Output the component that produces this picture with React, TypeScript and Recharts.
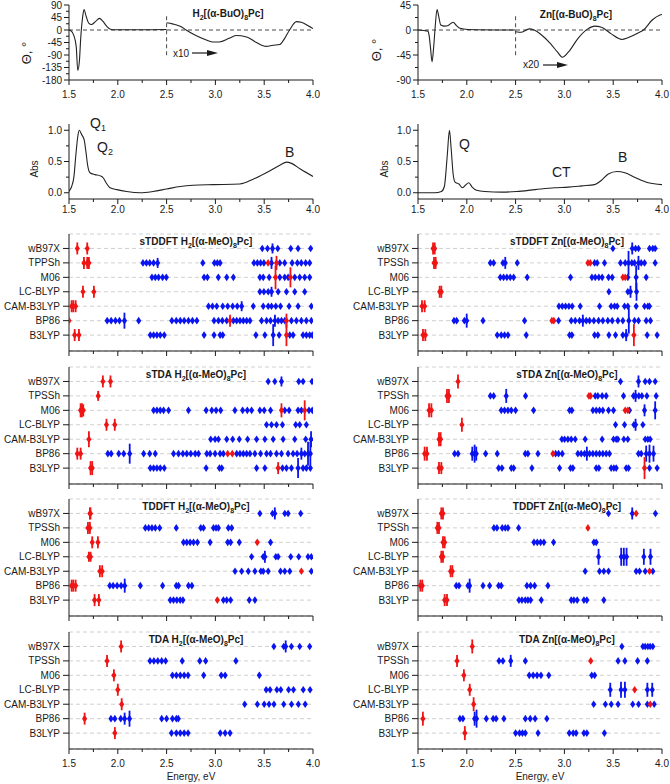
import React from 'react';
import { ScatterChart, Scatter, XAxis, YAxis, CartesianGrid, LineChart, Line, ReferenceLine } from 'recharts';

// ---------- axis values ----------
const energyTicks = [1.5, 1.75, 2, 2.25, 2.5, 2.75, 3, 3.25, 3.5, 3.75, 4];
const energyMajor = [1.5, 2, 2.5, 3, 3.5, 4];
const rowTicks = [0, 1, 2, 3, 4, 5, 6];
const functionals = ['wB97X', 'TPSSh', 'M06', 'LC-BLYP', 'CAM-B3LYP', 'BP86', 'B3LYP'];
const functionalsFirst = ['wB97X', 'TPPSh', 'M06', 'LC-BLYP', 'CAM-B3LYP', 'BP86', 'B3LYP'];
const cdTicksH2 = [-180, -157.5, -135, -112.5, -90, -67.5, -45, -22.5, 0, 22.5, 45, 67.5, 90];
const cdTicksZn = [-90, -67.5, -45, -22.5, 0, 22.5, 45];
const absTicks = [0, 0.25, 0.5, 0.75, 1.0];

// ---------- CD spectra (energy, ellipticity) ----------
const cdH2Low: [number, number][] = [[1.5, 0], [1.517, -2], [1.55, -20], [1.574, -60], [1.59, -146], [1.607, -110], [1.62, -30], [1.641, 50], [1.654, 74], [1.675, 50], [1.702, 25], [1.73, 20], [1.77, 30], [1.812, 42], [1.846, 32], [1.89, 12], [1.925, 3], [1.98, 1], [2.2, 1], [2.5, 2]];
const cdH2High: [number, number][] = [[2.5, 26], [2.56, 22], [2.65, 12], [2.7, 0], [2.8, -20], [2.9, -35], [2.97, -43], [3.04, -43], [3.14, -30], [3.21, -20], [3.32, -25], [3.42, -45], [3.52, -59], [3.59, -55], [3.66, -52], [3.71, -30], [3.76, 0], [3.83, 30], [3.88, 28], [3.95, 15], [4.0, 5]];
const cdZnLow: [number, number][] = [[1.5, 0], [1.6, -2], [1.614, -10], [1.627, -30], [1.644, -57], [1.661, -30], [1.678, 10], [1.695, 37], [1.712, 25], [1.733, 9], [1.774, 7], [1.808, 8], [1.86, 14], [1.894, 8], [1.93, 3], [2.01, 1], [2.5, 0]];
const cdZnHigh: [number, number][] = [[2.5, -3], [2.56, -4], [2.64, 2], [2.69, 0], [2.76, -8], [2.86, -25], [2.93, -40], [2.98, -49], [3.04, -40], [3.14, -15], [3.24, 2], [3.31, 7], [3.38, 5], [3.48, -7], [3.59, -17], [3.65, -14], [3.76, -5], [3.81, 0], [3.9, 18], [3.98, 27], [4.0, 28]];

// ---------- absorption spectra ----------
const absH2: [number, number][] = [[1.5, 0.02], [1.527, 0.1], [1.55, 0.25], [1.57, 0.6], [1.59, 0.9], [1.605, 1.0], [1.63, 0.93], [1.655, 0.85], [1.674, 0.65], [1.69, 0.45], [1.715, 0.32], [1.766, 0.29], [1.82, 0.27], [1.85, 0.24], [1.88, 0.16], [1.92, 0.08], [1.99, 0.05], [2.09, 0.02], [2.23, 0.0], [2.36, 0.02], [2.5, 0.06], [2.64, 0.1], [2.77, 0.12], [2.98, 0.13], [3.25, 0.14], [3.39, 0.22], [3.52, 0.32], [3.66, 0.44], [3.73, 0.49], [3.78, 0.47], [3.87, 0.38], [4.0, 0.26]];
const absZn: [number, number][] = [[1.5, 0.0], [1.67, 0.0], [1.74, 0.02], [1.77, 0.1], [1.8, 0.6], [1.822, 1.0], [1.84, 0.7], [1.86, 0.3], [1.88, 0.17], [1.92, 0.14], [1.955, 0.08], [1.985, 0.12], [2.02, 0.16], [2.055, 0.09], [2.1, 0.04], [2.185, 0.02], [2.36, 0.01], [2.51, 0.02], [2.7, 0.05], [2.9, 0.08], [3.04, 0.09], [3.18, 0.11], [3.31, 0.13], [3.38, 0.2], [3.45, 0.3], [3.54, 0.34], [3.62, 0.32], [3.73, 0.24], [3.86, 0.16], [4.0, 0.13]];

// ---------- computed transitions: energy or [energy, relative strength] ----------
type M = number | [number, number];
type Row = { b: M[]; r: M[] };

const sTDDFT_H2: Row[] = [
  { b: [3.48, 3.534, [3.585, 0.5], 3.639, 3.772, 3.847, 3.976], r: [[1.585, 0.6], [1.687, 0.6]] },
  { b: [2.258, 2.293, 2.327, 2.367, [2.408, 0.5], 2.871, 2.99, 3.02, 3.048, 3.395, 3.43, 3.463, 3.497, [3.575, 0.6], 3.66, 3.71, 3.786, 3.84, 3.88, 3.925, 3.966], r: [[1.653, 0.6], [1.687, 0.6], [1.704, 0.6], 3.54, [3.626, 0.7]] },
  { b: [2.35, 2.384, 2.418, 2.459, 2.497, 2.884, 2.918, 3.03, 3.116, 3.184, 3.456, 3.49, 3.551, 3.66, 3.71, 3.745, 3.813, 3.864, 3.915, 3.966], r: [[3.616, 1.2], [3.769, 1.0]] },
  { b: [3.456, 3.497, 3.541, [3.575, 0.5], 3.643, 3.728, 3.813, 3.915], r: [[1.643, 0.6], [1.755, 0.6]] },
  { b: [2.929, 2.97, 3.014, 3.075, 3.126, 3.177, 3.224, [3.269, 0.5], 3.388, 3.49, 3.541, 3.575, 3.619, 3.667, 3.755, 3.847, 3.983], r: [[1.527, 0.6], [1.544, 0.6], [1.568, 0.6]] },
  { b: [1.891, 1.932, 1.976, 2.017, [2.068, 0.8], 2.214, 2.554, 2.599, 2.64, 2.68, 2.724, 2.765, 2.81, 2.986, 3.031, 3.071, 3.116, 3.184, 3.218, 3.252, 3.286, 3.32, 3.354, 3.473, 3.524, 3.565, [3.61, 0.6], 3.643, 3.677, 3.711, 3.779, 3.83, 3.881, 3.932, 3.983], r: [1.5, [3.15, 0.6], [3.728, 0.7]] },
  { b: [2.333, 2.367, 2.401, 2.435, 2.476, 2.884, 2.986, 3.048, 3.075, 3.415, 3.507, [3.592, 1.1], 3.653, 3.762, 3.796, 3.898, 3.932, 3.966, 3.993], r: [[1.558, 0.6], [1.602, 0.6], [3.728, 1.1]] },
];
const sTDA_H2: Row[] = [
  { b: [3.541, 3.609, [3.677, 0.5], 3.854, 3.898, 3.99], r: [[1.847, 0.6], [1.925, 0.6]] },
  { b: [], r: [[1.799, 0.5]] },
  { b: [2.367, 2.401, 2.435, 2.469, 2.52, 2.724, 2.905, 2.963, 3.007, 3.054, 3.2, 3.279, 3.327, 3.371, 3.456, 3.5, 3.565, 3.711, 3.755, 3.847, 3.881, 3.959, 3.993], r: [[1.619, 0.7], [1.633, 0.7], [1.646, 0.6], [3.677, 0.7], [3.915, 1.0]] },
  { b: [3.524, 3.575, 3.626, 3.687, 3.823, 3.864, 3.932], r: [[1.884, 0.6], [1.969, 0.6]] },
  { b: [2.952, 2.997, 3.031, 3.116, 3.177, 3.245, 3.33, 3.422, 3.507, 3.592, 3.694, 3.813, 3.925, [3.98, 0.8]], r: [[1.704, 0.8]] },
  { b: [1.898, 1.932, 2.01, 2.061, [2.122, 1.0], 2.265, 2.327, 2.384, 2.571, 2.622, 2.667, 2.707, 2.748, 2.793, 2.827, 2.912, 2.946, 2.997, 3.048, 3.082, 3.218, 3.252, 3.286, 3.32, 3.354, 3.405, 3.463, 3.524, 3.565, 3.626, 3.677, 3.745, 3.796, 3.837, [3.881, 0.6], 3.915, [3.949, 1.2], [3.973, 1.2]], r: [[1.585, 0.6], [1.619, 0.6], 3.126, 3.173] },
  { b: [2.333, 2.367, 2.401, 2.435, 2.476, 2.905, 3.041, 3.065, 3.422, 3.507, 3.687, 3.728, 3.779, [3.847, 1.0], 3.898, 3.932, 3.973], r: [[1.721, 0.7], [1.738, 0.7], [3.643, 0.6]] },
];
const TDDFT_H2: Row[] = [
  { b: [3.456, 3.585, [3.609, 0.6], 3.711, 3.745, 3.874], r: [[1.714, 0.6], [1.72, 0.6]] },
  { b: [2.282, 2.316, 2.35, 2.384, 2.429, 2.599, 2.85, 2.878, 2.98, 3.007, 3.031, 3.133, 3.167], r: [[1.694, 0.6], [1.714, 0.6]] },
  { b: [2.673, 2.707, 2.741, 2.776, 2.816, 2.946, 3.126, 3.156, 3.245, 3.565], r: [[1.738, 0.6], [1.796, 0.6], 3.429] },
  { b: [3.371, 3.49, [3.507, 0.6], 3.619, 3.643, 3.772, 3.854, 3.949, 3.983], r: [[1.704, 0.5], [1.721, 0.5]] },
  { b: [3.201, 3.269, 3.337, 3.405, 3.466, 3.49, 3.541, 3.667, 3.711, 3.762, 3.983], r: [[1.816, 0.6], [1.84, 0.6], 3.881] },
  { b: [1.918, 1.952, 1.993, 2.034, [2.071, 0.7], 2.231, 2.459, 2.599, 2.622, 2.724, 2.759], r: [[1.527, 0.6], [1.544, 0.6], [1.568, 0.6]] },
  { b: [2.537, 2.571, 2.605, 2.639, 2.667, 3.082, 3.116, 3.156, 3.347, 3.405], r: [[1.762, 0.6], [1.806, 0.6], 3.02] },
];
const TDA_H2: Row[] = [
  { b: [3.599, 3.7, [3.72, 0.6], 3.779, 3.864, 3.966], r: [[2.034, 0.6]] },
  { b: [2.33, 2.37, 2.41, 2.45, 2.49, 2.66, 2.84, 2.9, 3.21], r: [[1.89, 0.6]] },
  { b: [2.56, 2.6, 2.64, 2.68, 2.72, 2.88, 3.06, 3.1, 3.45], r: [[1.96, 0.6]] },
  { b: [3.52, 3.56, 3.63, 3.67, 3.75, 3.8, 3.9, 3.97], r: [[2.0, 0.6]] },
  { b: [3.3, 3.43, 3.5, 3.55, 3.6, 3.7, 3.78, 3.85, 3.92], r: [[2.04, 0.6]] },
  { b: [1.93, 1.97, 2.03, [2.07, 0.6], [2.12, 0.8], 2.45, 2.5, 2.56, 2.6, 2.62], r: [[1.66, 0.6]] },
  { b: [2.55, 2.6, 2.64, 2.68, 2.72, 3.05, 3.1, 3.15], r: [[1.97, 0.6]] },
];

const sTDDFT_Zn: Row[] = [
  { b: [3.497, [3.695, 0.6], 3.729, 3.759, 3.872, 3.906, 3.93], r: [[1.654, 0.6], [1.671, 0.6]] },
  { b: [2.241, 2.275, 2.37, [2.394, 0.6], 2.517, 3.309, 3.336, 3.411, 3.575, 3.623, [3.657, 1.2], 3.691, 3.718, [3.759, 0.7], 3.787, 3.821, 3.93], r: [[1.664, 0.6], [1.681, 0.6], 3.241, 3.265] },
  { b: [2.343, 2.377, 2.411, 2.445, 2.48, 2.619, 3.063, 3.282, 3.316, 3.353, 3.387, 3.452, 3.49, 3.65, [3.735, 1.2], 3.838], r: [3.599, 3.623] },
  { b: [3.456, 3.65, [3.677, 0.6], [3.739, 0.9]], r: [[1.722, 0.6], [1.739, 0.6]] },
  { b: [2.944, 2.978, 3.012, 3.046, 3.08, 3.162, 3.36, 3.479, 3.514, 3.541, 3.616, 3.65, 3.735, 3.821, 3.855, 3.872], r: [[1.541, 0.6], [1.568, 0.6]] },
  { b: [1.869, 1.896, 1.975, [1.999, 0.7], 2.166, 2.592, 2.94, 3.07, 3.111, 3.155, [3.189, 0.6], 3.224, 3.258, 3.302, 3.35, 3.394, 3.445, 3.49, 3.548, 3.599, [3.66, 1.3], 3.718, 3.759, 3.838, 3.882], r: [2.872, 2.892] },
  { b: [2.312, 2.353, 2.387, 2.422, 2.609, 3.053, 3.077, 3.309, 3.343, 3.456, 3.524, 3.599, [3.633, 0.6], 3.848, 3.95], r: [[1.551, 0.6], [1.575, 0.6], [3.712, 1.1]] },
];
const sTDA_Zn: Row[] = [
  { b: [3.575, [3.759, 0.6], 3.828, 3.872, 3.93], r: [[1.91, 0.7]] },
  { b: [2.241, 2.275, [2.404, 0.7], 2.602, 3.316, 3.343, 3.387, 3.428, 3.606, 3.708, [3.729, 0.6], 3.763, 3.794, 3.845, 3.94], r: [[1.797, 0.7], [1.817, 0.7], 3.251, 3.268] },
  { b: [2.353, 2.387, 2.422, 2.456, 2.5, 2.684, 3.053, 3.077, 3.292, 3.326, 3.36, 3.394, 3.452, 3.503, 3.667, [3.821, 0.6], [3.93, 0.9]], r: [[1.613, 0.7], [1.637, 0.7], 3.623, 3.65] },
  { b: [3.524, 3.616, 3.712, [3.729, 0.6], 3.804], r: [[1.95, 0.7]] },
  { b: [2.974, 3.002, 3.036, 3.07, 3.111, 3.213, 3.387, 3.503, 3.531, 3.548, 3.609, 3.65, 3.828, 3.855, 3.879], r: [[1.715, 0.7], [1.732, 0.7]] },
  { b: [1.875, 1.91, [2.056, 0.7], [2.08, 0.9], [2.097, 0.7], 2.193, 2.312, 2.599, 2.626, 2.729, 2.91, 2.94, 2.978, 3.138, 3.172, 3.206, [3.23, 0.7], 3.258, 3.292, 3.326, 3.36, 3.394, 3.428, 3.462, 3.759, 3.787, [3.838, 0.8], [3.872, 0.9], [3.913, 0.8]], r: [[1.568, 0.7], [1.592, 0.7], 2.882] },
  { b: [2.326, 2.36, 2.456, 2.48, 2.667, 2.95, 3.063, 3.087, 3.326, 3.353, 3.479, 3.507, 3.531, 3.633, 3.657, 3.872, 3.95], r: [[1.715, 0.6], [1.739, 0.6], [3.821, 1.1]] },
];
const TDDFT_Zn: Row[] = [
  { b: [3.452, [3.695, 0.6], 3.933], r: [[1.739, 0.6], [1.756, 0.6], 3.735] },
  { b: [2.278, 2.309, 2.363, 2.394, 2.422, 2.531], r: [[1.698, 0.6], [1.715, 0.6], 3.241] },
  { b: [2.688, 2.722, 2.756, 2.79, 2.889, 3.302, 3.326], r: [[1.756, 0.6], [1.773, 0.6]] },
  { b: [[3.35, 0.8], [3.582, 0.9], [3.609, 0.9], [3.637, 0.9], [3.814, 0.8], [3.882, 0.8]], r: [[1.739, 0.6], [1.756, 0.6]] },
  { b: [3.213, 3.36, 3.404, 3.452, 3.735, 3.77, 3.828, 3.906], r: [[1.834, 0.6], [1.852, 0.6], 3.872] },
  { b: [1.892, 1.92, 2.012, [2.029, 0.7], 2.166, 2.234, 2.326, 2.353, 2.616, 2.654, 2.695, 2.831], r: [[1.524, 0.6], [1.544, 0.6]] },
  { b: [2.534, 2.565, 2.599, 2.626, 2.654, 2.763, 3.07, 3.097, 3.131, 3.2, 3.23, 3.404], r: [[1.773, 0.6], [1.797, 0.6]] },
];
const TDA_Zn: Row[] = [
  { b: [3.589, 3.804, 3.828, 3.855, 3.879, 3.906], r: [[2.056, 0.7]] },
  { b: [2.33, 2.37, [2.45, 0.6], 2.6, 3.55, 3.62, 3.75, 3.85], r: [[1.9, 0.6], 3.27] },
  { b: [2.64, 2.68, 2.72, 2.76, 2.84, 3.28, 3.31], r: [[1.97, 0.6]] },
  { b: [[3.47, 0.7], [3.58, 0.8], [3.62, 0.8], [3.85, 0.7], [3.9, 0.7]], r: [[2.03, 0.6], 3.72] },
  { b: [3.3, 3.42, 3.48, 3.55, 3.7, 3.76, 3.85, 3.92], r: [[2.07, 0.7], 3.88] },
  { b: [1.93, 1.96, [2.08, 0.7], [2.1, 0.9], 2.2, 2.27, 2.3, 2.38, 2.6, 2.65, 2.7, 2.82], r: [[1.55, 0.7]] },
  { b: [2.5, 2.54, 2.57, 2.6, 2.73, 3.05, 3.09, 3.12, 3.2, 3.23, 3.41], r: [[1.98, 0.7]] },
];

// ---------- helpers ----------
const FONT = '"Liberation Sans", Arial, Helvetica, sans-serif';
const INK = '#1a1a1a';
const BLUE = '#0a14f0';
const RED = '#f01414';

const toObj = (arr: [number, number][]) => arr.map(([x, y]) => ({ x, y }));
const toPts = (rows: Row[], key: 'b' | 'r') =>
  rows.flatMap((row, i) =>
    row[key].map((m) => (typeof m === 'number' ? { x: m, y: 6 - i, f: 0 } : { x: m[0], y: 6 - i, f: m[1] }))
  );

const marker = (color: string) => (p: any) => {
  const { cx, cy, payload } = p;
  if (cx == null || cy == null) return <g />;
  const s = (payload?.f ?? 0) * 10;
  return (
    <g>
      {s > 0 && <line x1={cx} x2={cx} y1={cy - s} y2={cy + s} stroke={color} strokeWidth={1.8} />}
      <polygon points={`${cx - 2.6},${cy} ${cx},${cy - 3.8} ${cx + 2.6},${cy} ${cx},${cy + 3.8}`} fill={color} />
    </g>
  );
};

const xTick = (showLabels: boolean, labelOffset: number) => (p: any) => {
  const v = p.payload.value;
  const major = energyMajor.some((m) => Math.abs(m - v) < 1e-6);
  return (
    <g>
      <line x1={p.x} x2={p.x} y1={p.y} y2={p.y + (major ? 5 : 3)} stroke={INK} strokeWidth={1} />
      {showLabels && major && (
        <text x={p.x} y={p.y + labelOffset} textAnchor="middle" fontSize={10} fill={INK} fontFamily={FONT}>
          {v.toFixed(1)}
        </text>
      )}
    </g>
  );
};

const yTick = (majorStep: number, digits: number) => (p: any) => {
  const v = p.payload.value;
  const major = Math.abs(v / majorStep - Math.round(v / majorStep)) < 1e-6;
  return (
    <g>
      <line x1={p.x} x2={p.x - (major ? 5 : 3)} y1={p.y} y2={p.y} stroke={INK} strokeWidth={1} />
      {major && (
        <text x={p.x - 7} y={p.y + 3.5} textAnchor="end" fontSize={10} fill={INK} fontFamily={FONT}>
          {digits ? v.toFixed(digits) : String(v)}
        </text>
      )}
    </g>
  );
};

type Col = { x: number; w: number; yw: number; right: number };
const LEFT: Col = { x: 0, w: 320, yw: 69, right: 7 };
const RIGHT: Col = { x: 335, w: 335, yw: 83, right: 8 };

function CDPanel({ col, low, high, domain, ticks }: { col: Col; low: [number, number][]; high: [number, number][]; domain: [number, number]; ticks: number[] }) {
  return (
    <div style={{ position: 'absolute', left: col.x, top: 0 }}>
      <LineChart width={col.w} height={105} margin={{ top: 5, right: col.right, bottom: 0, left: 0 }}>
        <XAxis type="number" dataKey="x" domain={[1.5, 4]} ticks={energyTicks} interval={0} allowDataOverflow tickSize={0} tickMargin={0} tick={xTick(true, 18)} height={25} stroke={INK} />
        <YAxis type="number" dataKey="y" domain={domain} ticks={ticks} interval={0} allowDataOverflow tickSize={0} tickMargin={0} tick={yTick(45, 0)} width={col.yw} stroke={INK} />
        <ReferenceLine y={0} stroke="#333" strokeDasharray="4 3" strokeWidth={0.9} />
        <ReferenceLine segment={[{ x: 2.5, y: domain[1] * 0.55 }, { x: 2.5, y: domain[1] === 90 ? -95 : -47 }]} stroke="#333" strokeDasharray="4 3" strokeWidth={0.9} />
        <Line data={toObj(low)} dataKey="y" type="monotone" stroke="#222" strokeWidth={1.1} dot={false} isAnimationActive={false} />
        <Line data={toObj(high)} dataKey="y" type="monotone" stroke="#222" strokeWidth={1.1} dot={false} isAnimationActive={false} />
      </LineChart>
    </div>
  );
}

function AbsPanel({ col, data }: { col: Col; data: [number, number][] }) {
  return (
    <div style={{ position: 'absolute', left: col.x, top: 110 }}>
      <LineChart width={col.w} height={114} margin={{ top: 14, right: col.right, bottom: 0, left: 0 }}>
        <XAxis type="number" dataKey="x" domain={[1.5, 4]} ticks={energyTicks} interval={0} allowDataOverflow tickSize={0} tickMargin={0} tick={xTick(true, 14)} height={25} stroke={INK} />
        <YAxis type="number" dataKey="y" domain={[-0.1, 1.1]} ticks={absTicks} interval={0} allowDataOverflow tickSize={0} tickMargin={0} tick={yTick(0.5, 1)} width={col.yw} stroke={INK} />
        <Line data={toObj(data)} dataKey="y" type="monotone" stroke="#222" strokeWidth={1.1} dot={false} isAnimationActive={false} />
      </LineChart>
    </div>
  );
}

function MarkerPanel({ col, top, rows, names, last }: { col: Col; top: number; rows: Row[]; names: string[]; last?: boolean }) {
  const h = 4 + 117 + (last ? 30 : 8);
  return (
    <div style={{ position: 'absolute', left: col.x, top: top - 4 }}>
      <ScatterChart width={col.w} height={h} margin={{ top: 4, right: col.right, bottom: 0, left: 0 }}>
        <CartesianGrid vertical={false} stroke="#c4c4c4" strokeDasharray="4 3" strokeWidth={0.8} />
        <XAxis type="number" dataKey="x" domain={[1.5, 4]} ticks={energyTicks} interval={0} allowDataOverflow tickSize={0} tickMargin={0} tick={xTick(!!last, 18)} height={last ? 30 : 8} stroke={INK} />
        <YAxis type="number" dataKey="y" domain={[-1.1, 7]} ticks={rowTicks} interval={0} allowDataOverflow tickSize={6} tickMargin={3} tickFormatter={(v: number) => names[6 - v]} tick={{ fontSize: 10, fill: INK, fontFamily: FONT }} width={col.yw} stroke={INK} />
        <Scatter data={toPts(rows, 'b')} fill={BLUE} shape={marker(BLUE)} isAnimationActive={false} />
        <Scatter data={toPts(rows, 'r')} fill={RED} shape={marker(RED)} isAnimationActive={false} />
      </ScatterChart>
    </div>
  );
}

const panelTops = [234, 367, 499, 632];

function Formula({ x, y, prefix, metal, sub1, mid, sub2, end, size = 10 }: any) {
  const s = size * 0.7;
  return (
    <text x={x} y={y} textAnchor="middle" fontSize={size} fontWeight="bold" fill={INK} fontFamily={FONT}>
      {prefix}{metal}
      {sub1 && <tspan dy={3} fontSize={s}>{sub1}</tspan>}
      <tspan dy={sub1 ? -3 : 0}>{mid}</tspan>
      <tspan dy={3} fontSize={s}>{sub2}</tspan>
      <tspan dy={-3}>{end}</tspan>
    </text>
  );
}

export default function App() {
  const titles = [
    ['sTDDFT ', 'sTDDFT '],
    ['sTDA ', 'sTDA '],
    ['TDDFT ', 'TDDFT '],
    ['TDA ', 'TDA '],
  ];
  return (
    <div style={{ position: 'absolute', left: 0, top: 0, width: 670, height: 784, background: '#fff', fontFamily: FONT, overflow: 'hidden' }}>
      <CDPanel col={LEFT} low={cdH2Low} high={cdH2High} domain={[-180, 90]} ticks={cdTicksH2} />
      <CDPanel col={RIGHT} low={cdZnLow} high={cdZnHigh} domain={[-90, 45]} ticks={cdTicksZn} />
      <AbsPanel col={LEFT} data={absH2} />
      <AbsPanel col={RIGHT} data={absZn} />
      <MarkerPanel col={LEFT} top={panelTops[0]} rows={sTDDFT_H2} names={functionalsFirst} />
      <MarkerPanel col={LEFT} top={panelTops[1]} rows={sTDA_H2} names={functionals} />
      <MarkerPanel col={LEFT} top={panelTops[2]} rows={TDDFT_H2} names={functionals} />
      <MarkerPanel col={LEFT} top={panelTops[3]} rows={TDA_H2} names={functionals} last />
      <MarkerPanel col={RIGHT} top={panelTops[0]} rows={sTDDFT_Zn} names={functionals} />
      <MarkerPanel col={RIGHT} top={panelTops[1]} rows={sTDA_Zn} names={functionals} />
      <MarkerPanel col={RIGHT} top={panelTops[2]} rows={TDDFT_Zn} names={functionals} />
      <MarkerPanel col={RIGHT} top={panelTops[3]} rows={TDA_Zn} names={functionals} last />

      <svg width={670} height={784} style={{ position: 'absolute', left: 0, top: 0, pointerEvents: 'none' }} fontFamily={FONT}>
        {/* CD titles */}
        <Formula x={228} y={17} prefix="" metal="H" sub1="2" mid="[(α-BuO)" sub2="8" end="Pc]" />
        <Formula x={576} y={18} prefix="" metal="Zn" mid="[(α-BuO)" sub2="8" end="Pc]" />
        {/* x10 / x20 annotations */}
        <text x={173} y={57} fontSize={10} fill={INK}>x10</text>
        <line x1={192} x2={210} y1={53} y2={53} stroke={INK} strokeWidth={1.2} />
        <polygon points="207,50 218,53 207,56" fill={INK} />
        <text x={523} y={68} fontSize={10} fill={INK}>x20</text>
        <line x1={543} x2={560} y1={65} y2={65} stroke={INK} strokeWidth={1.2} />
        <polygon points="557,62 568,65 557,68" fill={INK} />
        {/* y-axis labels */}
        <text transform="translate(31,53) rotate(-90)" textAnchor="middle" fontSize={13} fill={INK}>Θ, °</text>
        <text transform="translate(381,50) rotate(-90)" textAnchor="middle" fontSize={13} fill={INK}>Θ, °</text>
        <text transform="translate(38,169) rotate(-90)" textAnchor="middle" fontSize={10} fill={INK}>Abs</text>
        <text transform="translate(388,169) rotate(-90)" textAnchor="middle" fontSize={10} fill={INK}>Abs</text>
        {/* band labels */}
        <text x={90} y={128} fontSize={14} fill={INK}>Q<tspan dy={3} fontSize={9}>1</tspan></text>
        <text x={97} y={152} fontSize={14} fill={INK}>Q<tspan dy={3} fontSize={9}>2</tspan></text>
        <text x={285} y={157} fontSize={14} fill={INK}>B</text>
        <text x={459} y={149} fontSize={14} fill={INK}>Q</text>
        <text x={552} y={177} fontSize={14} fill={INK}>CT</text>
        <text x={618} y={162} fontSize={14} fill={INK}>B</text>
        {/* method titles */}
        {panelTops.map((t, i) => (
          <g key={i}>
            <Formula x={196} y={t + 11} prefix={titles[i][0]} metal="H" sub1="2" mid="[(α-MeO)" sub2="8" end="Pc]" />
            <Formula x={567} y={t + 11} prefix={titles[i][1]} metal="Zn" mid="[(α-MeO)" sub2="8" end="Pc]" />
          </g>
        ))}
        <text x={191} y={780} textAnchor="middle" fontSize={10} fill={INK}>Energy, eV</text>
        <text x={540} y={780} textAnchor="middle" fontSize={10} fill={INK}>Energy, eV</text>
      </svg>
    </div>
  );
}
